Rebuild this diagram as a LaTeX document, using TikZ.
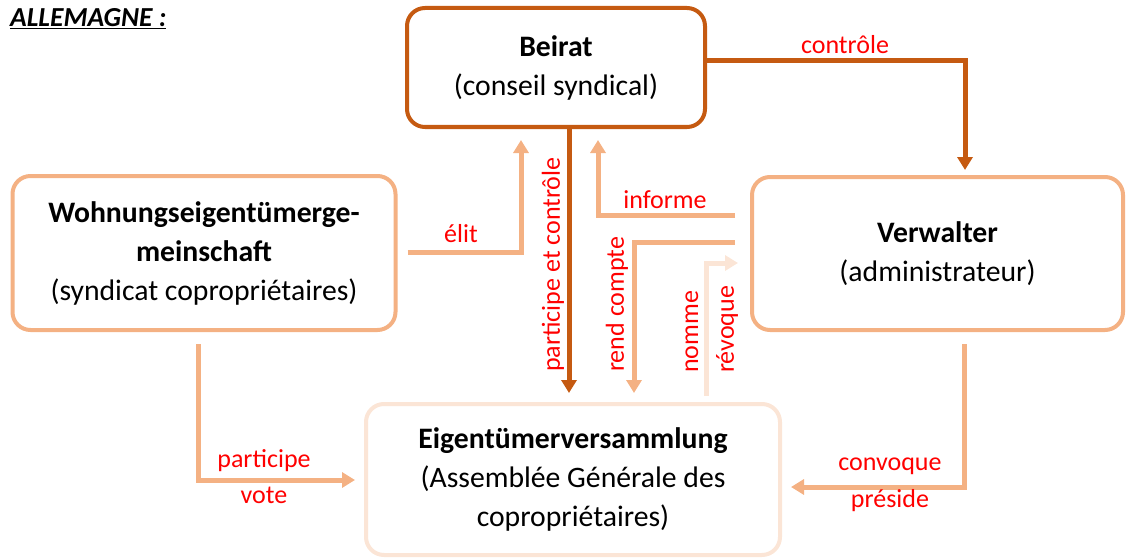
\documentclass[tikz,border=0pt]{standalone}
\usepackage{fontspec}
\setmainfont{Carlito}
\usetikzlibrary{arrows.meta}
\definecolor{dark}{HTML}{C55A11}
\definecolor{light}{HTML}{F4B183}
\definecolor{pale}{HTML}{FBE5D6}
\definecolor{lbl}{HTML}{FF0000}
\begin{document}
\begin{tikzpicture}[x=1pt,y=-1pt,
 box/.style={draw, line width=4pt, rounded corners=18pt, fill=white, align=center,
   font=\fontsize{29.7}{39}\selectfont, inner sep=0pt},
 conn/.style={line width=5pt, -{Triangle[width=15pt,length=13pt]}},
 lab/.style={text=lbl, font=\fontsize{26}{34}\selectfont, inner sep=0pt}]
\useasboundingbox (0,0) rectangle (1126,559);

\node[anchor=north west, inner sep=0pt, font=\fontsize{27.5}{30}\selectfont\bfseries\itshape] (title) at (10,8) {\underline{ALLEMAGNE :}};

\node[box, draw=dark, minimum width=298pt, minimum height=119pt] (beirat) at (556,67.5)
  {\textbf{Beirat}\\(conseil syndical)};
\node[box, draw=light, minimum width=383pt, minimum height=154pt] (wohn) at (204,253)
  {\textbf{Wohnungseigentümerge-}\\\textbf{meinschaft}\\(syndicat copropriétaires)};
\node[box, draw=light, minimum width=371pt, minimum height=153pt] (verw) at (937.5,253.5)
  {\textbf{Verwalter}\\(administrateur)};
\node[box, draw=pale, minimum width=414pt, minimum height=151pt] (eig) at (573,479.5)
  {\textbf{Eigentümerversammlung}\\(Assemblée Générale des\\copropriétaires)};

% connectors
\draw[conn, dark, shorten >=5pt] ([yshift=6.5pt]beirat.east) -| (verw.north -| 965,0);
\draw[conn, light, shorten >=11pt] ([xshift=10pt]wohn.east |- 0,252) -| (beirat.south -| 521,0);
\draw[conn, dark, shorten >=9pt] (beirat.south -| 569,0) -- (eig.north -| 569,0);
\draw[conn, light, shorten <=15pt, shorten >=11pt] (verw.west |- 0,215) -| (beirat.south -| 598,0);
\draw[conn, light, shorten <=15pt, shorten >=9pt] (verw.west |- 0,242) -| (eig.north -| 634,0);
\draw[conn, pale, shorten <=6pt, shorten >=12pt] (eig.north -| 706,0) |- (verw.west |- 0,263);
\draw[conn, light, shorten <=12pt, shorten >=9pt] (wohn.south -| 198,0) |- (eig.west |- 0,480);
\draw[conn, light, shorten <=12pt, shorten >=9pt] (verw.south -| 964,0) |- (eig.east |- 0,487);

% labels
\node[lab] (l1) at (845,45) {contrôle};
\node[lab] (l2) at (461,234) {élit};
\node[lab, rotate=90, anchor=west] (l3) at (553,372) {participe et contrôle};
\node[lab] (l4) at (665,200) {informe};
\node[lab, rotate=90, anchor=west] (l5) at (617,372) {rend compte};
\node[lab, rotate=90, anchor=west] (l6) at (692,373) {nomme};
\node[lab, rotate=90, anchor=west] (l7) at (727,373) {révoque};
\node[lab] (l8) at (264,461) {participe};
\node[lab] (l9) at (264,495) {vote};
\node[lab] (l10) at (890,466) {convoque};
\node[lab] (l11) at (890,501) {préside};
\end{tikzpicture}
\end{document}
